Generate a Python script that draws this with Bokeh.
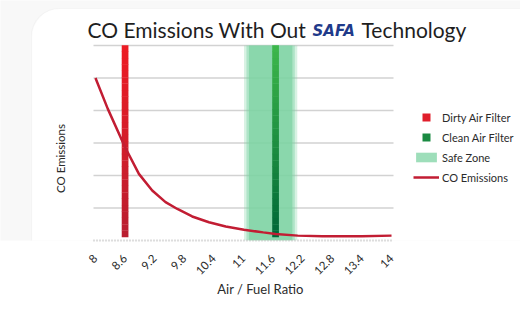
import numpy as np
from bokeh.plotting import figure
from bokeh.models import (Range1d, FixedTicker, Label, Legend, LegendItem,
                          BoxAnnotation, ColumnDataSource)
from bokeh.embed import file_html
from bokeh.resources import INLINE

# ---------------- data ----------------
afr = [8.0, 8.25, 8.6, 8.88, 9.15, 9.42, 9.66, 9.96, 10.3, 10.64, 11.01, 11.4, 11.65, 12.1, 12.6, 13.4, 14.0]
co = [5.0, 4.05, 2.87, 2.05, 1.54, 1.18, 0.97, 0.74, 0.56, 0.43, 0.33, 0.25, 0.20, 0.15, 0.13, 0.13, 0.15]

dirty_filter_afr = 8.6
clean_filter_afr = 11.65
safe_zone = [11.04, 12.06]
bar_range = [0.1, 6.0]

tick_values = [8, 8.6, 9.2, 9.8, 10.4, 11, 11.6, 12.2, 12.8, 13.4, 14]
tick_labels = ["8", "8.6", "9.2", "9.8", "10.4", "11", "11.6", "12.2", "12.8", "13.4", "14"]
grid_values = [1, 2, 3, 4, 5, 6]
x_plot = [7.96, 14.04]      # visible plotting extent (axis bounds)
y_top = 6.0

FONT = "Lato"
W, H = 520, 310
FRAME_BOTTOM_PX = 240
PPX = 300 / (x_plot[1] - x_plot[0])     # px per x unit
PPY = 195 / y_top                        # px per y unit
x0 = x_plot[0] - 93 / PPX
x1 = x_plot[1] + (W - 393) / PPX
y1 = FRAME_BOTTOM_PX / PPY

p = figure(width=W, height=H, output_backend="svg", toolbar_location=None,
           x_range=Range1d(x0, x1), y_range=Range1d(0, y1),
           min_border_left=0, min_border_right=0, min_border_top=0,
           min_border_bottom=H - FRAME_BOTTOM_PX)
p.outline_line_color = None
p.background_fill_color = "#f8f8f8"
p.border_fill_color = "white"


def px_x(ix):
    return x0 + ix / PPX


def px_y(iy):
    return (FRAME_BOTTOM_PX - iy) / PPY


# card background
card = BoxAnnotation(left=px_x(31), right=x1 + 1, top=px_y(8), bottom=-3,
                     fill_color="white", fill_alpha=1.0,
                     line_color="#e3e3e3", line_width=1.2,
                     border_radius=28, level="image")
p.add_layout(card)

# grid lines (limited to plotting extent)
p.grid.visible = False
p.yaxis.visible = False
p.segment(x0=[x_plot[0]] * len(grid_values), x1=[x_plot[1]] * len(grid_values),
          y0=grid_values, y1=grid_values, line_color="#d2d2d2", line_width=1.5)

xa = p.xaxis[0]
xa.bounds = (x_plot[0], x_plot[1])
xa.ticker = FixedTicker(ticks=tick_values)
xa.major_label_overrides = {v: s for v, s in zip(tick_values, tick_labels)}
xa.major_label_orientation = np.pi / 4
xa.major_tick_line_color = None
xa.minor_tick_line_color = None
xa.axis_line_color = "#bdbdbd"
xa.axis_line_dash = "1 2"
xa.axis_line_width = 2
xa.major_label_text_font = FONT
xa.major_label_text_font_size = "11.5px"
xa.major_label_text_color = "#2b2b2b"
xa.major_label_standoff = 10
xa.axis_label = "Air / Fuel Ratio"
xa.axis_label_text_font = FONT
xa.axis_label_text_font_size = "13px"
xa.axis_label_text_font_style = "normal"
xa.axis_label_text_color = "#2b2b2b"
xa.axis_label_standoff = 0

# safe zone (soft edges)
sz_color = "#7dd3a3"
p.quad(left=[safe_zone[0] - 0.03], right=[safe_zone[1] + 0.03], bottom=[0], top=[y_top],
       fill_color=sz_color, fill_alpha=0.3, line_color=None)
p.quad(left=[safe_zone[0] + 0.02], right=[safe_zone[1] - 0.02], bottom=[0], top=[y_top],
       fill_color=sz_color, fill_alpha=0.45, line_color=None)
safe_r = p.quad(left=[safe_zone[0] + 0.07], right=[safe_zone[1] - 0.07], bottom=[0], top=[y_top],
                fill_color=sz_color, fill_alpha=0.75, line_color=None)


def gradient_bar(xc, c_top, c_bot, n=30, w=0.136):
    edges = np.linspace(bar_range[0], bar_range[1], n + 1)
    t = np.linspace(0, 1, n)
    ct = np.array(c_top, float)
    cb = np.array(c_bot, float)
    cols = []
    for f in t:
        c = cb + (ct - cb) * f
        cols.append("#%02x%02x%02x" % tuple(int(round(v)) for v in c))
    src = ColumnDataSource(dict(left=[xc - w / 2] * n, right=[xc + w / 2] * n,
                                bottom=list(edges[:-1]), top=list(edges[1:] + 0.01),
                                color=cols))
    p.quad(left="left", right="right", bottom="bottom", top="top",
           fill_color="color", line_color=None, source=src)


gradient_bar(dirty_filter_afr, (236, 28, 36), (186, 30, 48))
gradient_bar(clean_filter_afr, (60, 182, 74), (0, 104, 56))

# CO curve
line_r = p.line(afr, co, line_color="#c21d33", line_width=2.5)

# legend proxies (not drawn in the plot: NaN position)
dirty_r = p.scatter([np.nan], [np.nan], marker="square", size=8,
                    fill_color="#e01e2b", line_color=None)
clean_r = p.scatter([np.nan], [np.nan], marker="square", size=8,
                    fill_color="#1a8a42", line_color=None)


def make_legend(items, loc, gh):
    lg = Legend(items=items, location=loc, orientation="vertical")
    lg.glyph_width = 26
    lg.glyph_height = gh
    lg.label_height = 20
    lg.spacing = 0
    lg.padding = 0
    lg.margin = 0
    lg.label_standoff = 3
    lg.label_text_font = FONT
    lg.label_text_font_size = "11px"
    lg.label_text_color = "#2b2b2b"
    lg.background_fill_alpha = 0
    lg.border_line_color = None
    p.add_layout(lg, "center")


make_legend([LegendItem(label="Dirty Air Filter", renderers=[dirty_r]),
             LegendItem(label="Clean Air Filter", renderers=[clean_r])], (413, 93), 20)
make_legend([LegendItem(label="Safe Zone", renderers=[safe_r]),
             LegendItem(label="CO Emissions", renderers=[line_r])], (413, 53), 12)

# title
title_y = px_y(28.5)
p.add_layout(Label(x=px_x(87), y=title_y, text="CO Emissions With Out", text_font=FONT,
                   text_font_size="21px", text_color="#1e1e1e", text_baseline="alphabetic"))
p.add_layout(Label(x=px_x(312), y=px_y(30), text="SAFA", text_font="DejaVu Sans",
                   text_font_style="bold italic", text_font_size="15px",
                   text_color="#1f3a8a", text_baseline="alphabetic"))
p.add_layout(Label(x=px_x(361), y=title_y, text="Technology", text_font=FONT,
                   text_font_size="21px", text_color="#1e1e1e", text_baseline="alphabetic"))

# y axis label
p.add_layout(Label(x=px_x(60), y=px_y(158), text="CO Emissions", text_font=FONT,
                   text_font_size="11.5px", text_color="#2b2b2b", angle=np.pi / 2,
                   text_align="center", text_baseline="middle"))

open("out.html", "w").write(file_html(p, INLINE))
